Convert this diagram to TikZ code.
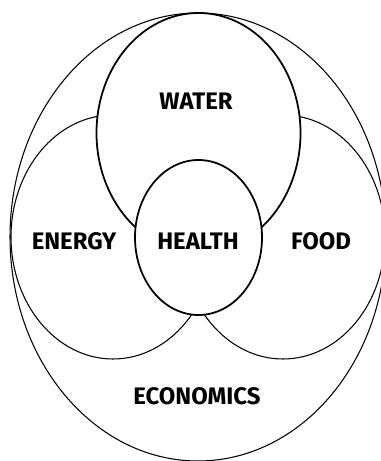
\documentclass[tikz,border=0pt]{standalone}
\usepackage{fontspec}
\setmainfont{Fira Sans}
\usepackage{tikz}

\begin{document}
\begin{tikzpicture}[label/.style={font=\fontsize{13.6}{15}\selectfont\bfseries, inner sep=0pt}]
\useasboundingbox (0,0) rectangle (7.6,9.22);
\draw[black, line width=0.6pt, fill=white](3.96,4.48) ellipse (3.76 and 4.48);
\foreach \x in {2.26,5.66}{
	\draw[black, line width=0.6pt, fill=white](\x,4.48) ellipse (2.04 and 2.44);
}
\draw[black, line width=1pt, fill=white](3.97,6.56) ellipse (2.04 and 2.40);
\draw[black, line width=1pt, fill=white](3.97,4.47) ellipse (1.27 and 1.55);
\node[label] (water) at (3.92,7.20) {WATER};
\node[label] (energy) at (1.48,4.40) {ENERGY};
\node[label] (health) at (3.96,4.40) {HEALTH};
\node[label] (food) at (6.42,4.40) {FOOD};
\node[label] (economics) at (3.94,1.30) {ECONOMICS};
\end{tikzpicture}
\end{document}
